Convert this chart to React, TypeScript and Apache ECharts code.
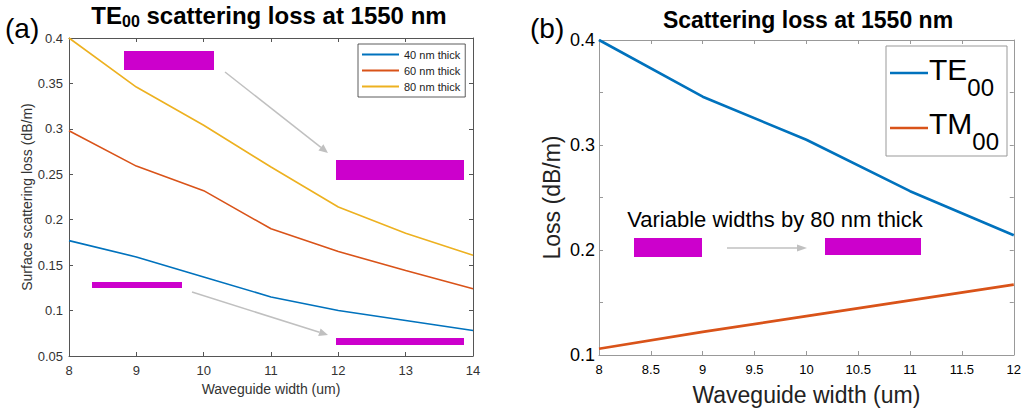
import React, { useEffect, useRef } from "react";
import * as echarts from "echarts";

const FONT = "'Liberation Sans', Arial, Helvetica, sans-serif";

// ---- Data (panel a) ----
const widthsA = [8, 9, 10, 11, 12, 13, 14];
const loss40 = [0.177, 0.159, 0.137, 0.115, 0.1, 0.089, 0.078];
const loss60 = [0.298, 0.259, 0.232, 0.19, 0.165, 0.144, 0.124];
const loss80 = [0.4, 0.346, 0.304, 0.258, 0.214, 0.185, 0.161];
const namesA = ["40 nm thick", "60 nm thick", "80 nm thick"];

// ---- Data (panel b) ----
const widthsB = [8, 9, 10, 11, 12];
const te00 = [0.4, 0.346, 0.305, 0.256, 0.214];
const tm00 = [0.106, 0.122, 0.137, 0.152, 0.167];

const BLUE = "#0072BD";
const ORANGE = "#D95319";
const YELLOW = "#EDB120";
const MAGENTA = "#cc00cc";
const ARROW = "#c0c0c0";

let measureCtx: CanvasRenderingContext2D | null = null;
function textWidth(text: string, size: number, bold = false) {
  if (!measureCtx) measureCtx = document.createElement("canvas").getContext("2d");
  if (!measureCtx) return text.length * size * 0.55;
  measureCtx.font = `${bold ? "bold " : ""}${size}px ${FONT}`;
  return measureCtx.measureText(text).width;
}

function arrow(x1: number, y1: number, x2: number, y2: number, head = 9, half = 4) {
  const dx = x2 - x1;
  const dy = y2 - y1;
  const len = Math.sqrt(dx * dx + dy * dy);
  const ux = dx / len;
  const uy = dy / len;
  const bx = x2 - ux * head;
  const by = y2 - uy * head;
  const px = -uy * half;
  const py = ux * half;
  return [
    { type: "line", z: 5, shape: { x1, y1, x2: bx, y2: by }, style: { stroke: ARROW, lineWidth: 1.5 } },
    {
      type: "polygon",
      z: 5,
      shape: { points: [[x2, y2], [bx + px, by + py], [bx - px, by - py]] },
      style: { fill: ARROW },
    },
  ];
}

function mrect(x: number, y: number, w: number, h: number) {
  return { type: "rect", z: 5, shape: { x, y, width: w, height: h }, style: { fill: MAGENTA } };
}

function txt(text: string, x: number, y: number, size: number, opts: any = {}) {
  return {
    type: "text",
    z: opts.z ?? 11,
    x,
    y,
    style: {
      text,
      fontSize: size,
      fontFamily: FONT,
      fontWeight: opts.bold ? "bold" : "normal",
      fill: opts.fill ?? "#000",
      align: opts.align ?? "left",
      verticalAlign: "middle",
    },
  };
}

// main text followed by a subscript, then optional tail; returns text elements
function subText(
  main: string,
  sub: string,
  tail: string,
  x: number,
  y: number,
  size: number,
  subSize: number,
  subDy: number,
  bold: boolean,
  center: boolean
) {
  const w1 = textWidth(main, size, bold);
  const w2 = textWidth(sub, subSize, bold);
  const w3 = tail ? textWidth(tail, size, bold) : 0;
  const x0 = center ? x - (w1 + w2 + w3) / 2 : x;
  const els: any[] = [txt(main, x0, y, size, { bold }), txt(sub, x0 + w1, y + subDy, subSize, { bold })];
  if (tail) els.push(txt(tail, x0 + w1 + w2, y, size, { bold }));
  return els;
}

function zip(xs: number[], ys: number[]) {
  return xs.map((x, i) => [x, ys[i]]);
}

export default function App() {
  const ref = useRef<HTMLDivElement>(null);

  useEffect(() => {
    if (!ref.current) return;
    const chart = echarts.init(ref.current, undefined, { renderer: "svg" });

    const axA = "#555";
    const axB = "#999";

    const baseAxis = (color: string, labelColor: string, labelSize: number, margin: number, show = true) => ({
      axisLine: { show: true, onZero: false, lineStyle: { color, width: 1 } },
      axisTick: { show: true, inside: true, length: 4, lineStyle: { color, width: 1 } },
      axisLabel: { show, fontSize: labelSize, color: labelColor, margin, fontFamily: FONT },
      splitLine: { show: false },
    });

    const option: any = {
      animation: false,
      textStyle: { fontFamily: FONT },
      grid: [
        { left: 69, top: 38, width: 404, height: 318 },
        { left: 599, top: 40, width: 419, height: 315 },
      ],
      xAxis: [
        {
          gridIndex: 0,
          type: "value",
          min: 8,
          max: 14,
          interval: 1,
          position: "bottom",
          ...baseAxis(axA, "#333", 13, 8),
          name: "Waveguide width (um)",
          nameLocation: "middle",
          nameGap: 25,
          nameTextStyle: { fontSize: 14, color: "#333", fontFamily: FONT },
        },
        {
          gridIndex: 1,
          type: "value",
          min: 8,
          max: 12,
          interval: 0.5,
          position: "bottom",
          ...baseAxis(axB, "#000", 13, 8),
          name: "Waveguide width (um)",
          nameLocation: "middle",
          nameGap: 28,
          nameTextStyle: { fontSize: 23, color: "#222", fontFamily: FONT },
        },
        {
          gridIndex: 0,
          type: "value",
          min: 8,
          max: 14,
          interval: 1,
          position: "top",
          ...baseAxis(axA, "#333", 13, 8, false),
        },
        {
          gridIndex: 1,
          type: "value",
          min: 8,
          max: 12,
          interval: 0.5,
          position: "top",
          ...baseAxis(axB, "#000", 13, 8, false),
        },
      ],
      yAxis: [
        {
          gridIndex: 0,
          type: "value",
          min: 0.05,
          max: 0.4,
          interval: 0.05,
          position: "left",
          ...baseAxis(axA, "#333", 13, 6),
          name: "Surface scattering loss (dB/m)",
          nameLocation: "middle",
          nameGap: 34,
          nameTextStyle: { fontSize: 14, color: "#333", fontFamily: FONT },
        },
        {
          gridIndex: 1,
          type: "value",
          min: 0.1,
          max: 0.4,
          interval: 0.05,
          position: "left",
          ...baseAxis(axB, "#000", 18, 4),
          axisLabel: {
            show: true,
            fontSize: 18,
            color: "#000",
            margin: 4,
            fontFamily: FONT,
            formatter: (v: number) => {
              const r = Math.round(v * 10) / 10;
              return Math.abs(v - r) < 1e-6 ? r.toFixed(1) : "";
            },
          },
          name: "Loss (dB/m)",
          nameLocation: "middle",
          nameGap: 36,
          nameTextStyle: { fontSize: 23, color: "#222", fontFamily: FONT },
        },
        {
          gridIndex: 0,
          type: "value",
          min: 0.05,
          max: 0.4,
          interval: 0.05,
          position: "right",
          ...baseAxis(axA, "#333", 13, 6, false),
        },
        {
          gridIndex: 1,
          type: "value",
          min: 0.1,
          max: 0.4,
          interval: 0.05,
          position: "right",
          ...baseAxis(axB, "#000", 13, 6, false),
        },
      ],
      legend: {
        data: namesA,
        orient: "vertical",
        left: 358,
        top: 44,
        icon: "rect",
        itemWidth: 37,
        itemHeight: 2,
        itemGap: 5,
        padding: [5, 5, 5, 4],
        borderColor: "#333",
        borderWidth: 0.8,
        backgroundColor: "#fff",
        selectedMode: false,
        textStyle: { fontSize: 11, color: "#222", fontFamily: FONT },
      },
      series: [
        {
          name: namesA[0],
          type: "line",
          xAxisIndex: 0,
          yAxisIndex: 0,
          data: zip(widthsA, loss40),
          symbol: "none",
          lineStyle: { color: BLUE, width: 1.6 },
          itemStyle: { color: BLUE },
        },
        {
          name: namesA[1],
          type: "line",
          xAxisIndex: 0,
          yAxisIndex: 0,
          data: zip(widthsA, loss60),
          symbol: "none",
          lineStyle: { color: ORANGE, width: 1.6 },
          itemStyle: { color: ORANGE },
        },
        {
          name: namesA[2],
          type: "line",
          xAxisIndex: 0,
          yAxisIndex: 0,
          data: zip(widthsA, loss80),
          symbol: "none",
          lineStyle: { color: YELLOW, width: 1.6 },
          itemStyle: { color: YELLOW },
        },
        {
          name: "TE00",
          type: "line",
          xAxisIndex: 1,
          yAxisIndex: 1,
          data: zip(widthsB, te00),
          symbol: "none",
          lineStyle: { color: BLUE, width: 2.6 },
          itemStyle: { color: BLUE },
        },
        {
          name: "TM00",
          type: "line",
          xAxisIndex: 1,
          yAxisIndex: 1,
          data: zip(widthsB, tm00),
          symbol: "none",
          lineStyle: { color: ORANGE, width: 2.6 },
          itemStyle: { color: ORANGE },
        },
      ],
      graphic: [
        // panel labels
        txt("(a)", 5, 28, 28),
        txt("(b)", 530, 28, 28),
        // titles
        ...subText("TE", "00", " scattering loss at 1550 nm", 269, 15, 24, 16, 6.5, true, true),
        txt("Scattering loss at 1550 nm", 808, 20, 23, { bold: true, align: "center" }),
        // panel a annotations
        mrect(124, 51, 90, 19),
        mrect(336, 160, 128, 20),
        mrect(92, 282, 90, 6),
        mrect(336, 338, 128, 7),
        ...arrow(225, 72, 328, 153),
        ...arrow(192, 292, 328, 335),
        // panel b annotations
        txt("Variable widths by 80 nm thick", 775, 219, 22, { align: "center" }),
        mrect(634, 238, 68, 19),
        mrect(825, 238, 96, 17),
        ...arrow(727, 248, 807, 248, 10, 3.5),
        // panel b legend
        {
          type: "rect",
          z: 10,
          shape: { x: 886, y: 46, width: 121, height: 110 },
          style: { fill: "#fff", stroke: "#999", lineWidth: 1 },
        },
        { type: "line", z: 11, shape: { x1: 890, y1: 73, x2: 928, y2: 73 }, style: { stroke: BLUE, lineWidth: 2.6 } },
        { type: "line", z: 11, shape: { x1: 890, y1: 128, x2: 928, y2: 128 }, style: { stroke: ORANGE, lineWidth: 2.6 } },
        ...subText("TE", "00", "", 929, 69, 30, 24, 18.5, false, false),
        ...subText("TM", "00", "", 929, 123, 30, 24, 18, false, false),
      ],
    };

    chart.setOption(option);
    return () => {
      chart.dispose();
    };
  }, []);

  return (
    <div
      ref={ref}
      style={{ position: "absolute", left: 0, top: 0, width: 1024, height: 411, background: "#fff" }}
    />
  );
}
